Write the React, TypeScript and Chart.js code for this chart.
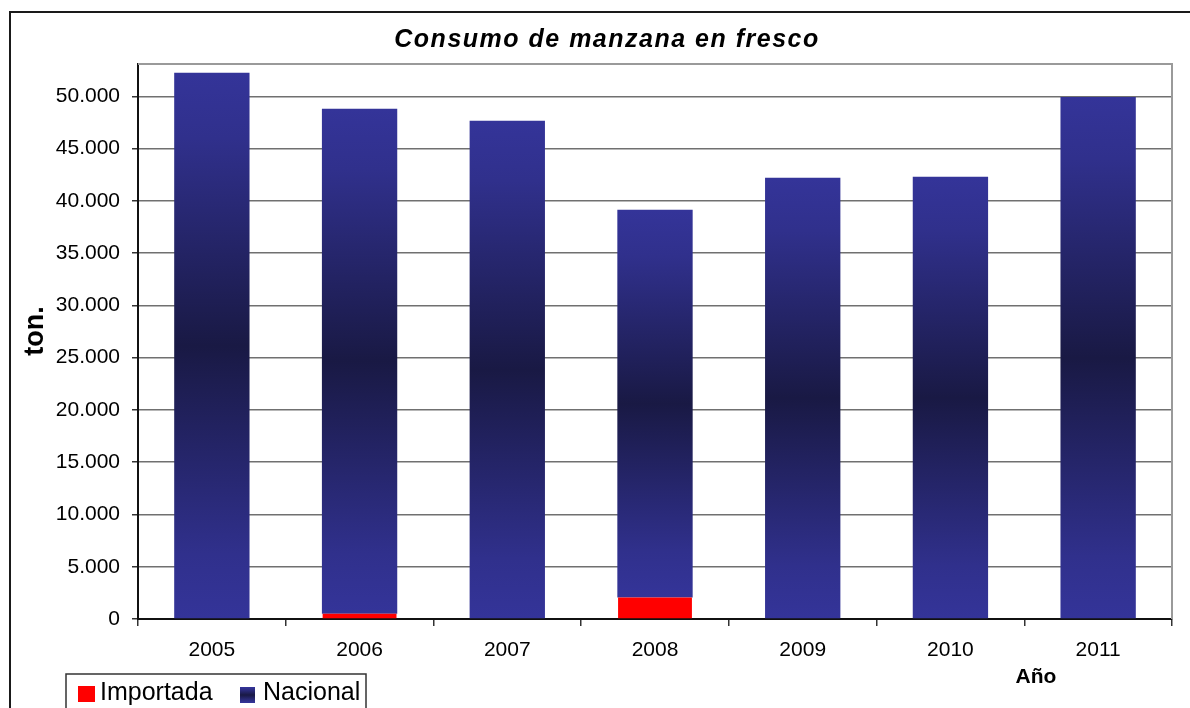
import React, { useEffect, useRef } from 'react';
import { Chart, registerables } from 'chart.js';

Chart.register(...registerables);

// ---- data ----
const years = ['2005', '2006', '2007', '2008', '2009', '2010', '2011'];
const importada = [0, 500, 60, 2050, 60, 0, 0];
const nacional = [52270, 48320, 47610, 37100, 42160, 42310, 49950];
const seriesNames = ['Importada', 'Nacional'];
const yTickValues = [0, 5000, 10000, 15000, 20000, 25000, 30000, 35000, 40000, 45000, 50000];
const yMax = 53100;
const chartTitle = 'Consumo de manzana en fresco';
const yTitle = 'ton.';
const xTitle = 'Año';

const FONT = 'Arial, "Liberation Sans", sans-serif';
const RED = '#ff0000';
const NAVY_LIGHT = '#343499';
const NAVY_MID = '#30308c';
const NAVY_DARK = '#191944';

function navyGradient(ctx: CanvasRenderingContext2D, y0: number, y1: number) {
  const g = ctx.createLinearGradient(0, y0, 0, y1);
  g.addColorStop(0, NAVY_LIGHT);
  g.addColorStop(0.12, NAVY_MID);
  g.addColorStop(0.5, NAVY_DARK);
  g.addColorStop(0.88, NAVY_MID);
  g.addColorStop(1, NAVY_LIGHT);
  return g;
}

const fmt = (v: number) => String(Math.round(v)).replace(/\B(?=(\d{3})+(?!\d))/g, '.');

const decor = {
  id: 'decor',
  beforeDraw(chart: any) {
    const { ctx, width, height } = chart;
    ctx.save();
    ctx.fillStyle = '#ffffff';
    ctx.fillRect(0, 0, width, height);
    ctx.strokeStyle = '#1a1a1a';
    ctx.lineWidth = 2;
    ctx.strokeRect(10, 12, 1400, 900);
    ctx.restore();
  },
  beforeDatasetsDraw(chart: any) {
    const { ctx, chartArea: a } = chart;
    ctx.save();
    ctx.strokeStyle = '#9a9a9a';
    ctx.lineWidth = 2;
    ctx.beginPath();
    ctx.moveTo(a.left, a.top);
    ctx.lineTo(a.right, a.top);
    ctx.lineTo(a.right, a.bottom);
    ctx.stroke();
    ctx.restore();
  },
  afterDraw(chart: any) {
    const { ctx } = chart;
    ctx.save();
    ctx.fillStyle = '#000';
    // title
    ctx.font = `italic bold 25px ${FONT}`;
    (ctx as any).letterSpacing = '1.5px';
    ctx.textAlign = 'center';
    ctx.textBaseline = 'alphabetic';
    ctx.fillText(chartTitle, 607, 47);
    (ctx as any).letterSpacing = '0px';
    // y title
    ctx.save();
    ctx.translate(43, 331);
    ctx.rotate(-Math.PI / 2);
    ctx.font = `bold 27px ${FONT}`;
    ctx.textAlign = 'center';
    ctx.fillText(yTitle, 0, 0);
    ctx.restore();
    // x title
    ctx.font = `bold 21px ${FONT}`;
    ctx.textAlign = 'center';
    ctx.fillText(xTitle, 1036, 683);
    // legend
    ctx.strokeStyle = '#333';
    ctx.lineWidth = 1.5;
    ctx.fillStyle = '#fff';
    ctx.fillRect(66, 674, 300, 60);
    ctx.strokeRect(66, 674, 300, 60);
    ctx.fillStyle = RED;
    ctx.fillRect(78, 686, 17, 16);
    ctx.fillStyle = navyGradient(ctx, 687, 703);
    ctx.fillRect(240, 687, 15, 16);
    ctx.fillStyle = '#000';
    ctx.font = `25px ${FONT}`;
    ctx.textAlign = 'left';
    ctx.fillText(seriesNames[0], 100, 700);
    ctx.fillText(seriesNames[1], 263, 700);
    ctx.restore();
  },
};

export default function App() {
  const ref = useRef<HTMLCanvasElement>(null);
  useEffect(() => {
    const canvas = ref.current;
    if (!canvas) return;
    const chart = new Chart(canvas, {
      type: 'bar',
      data: {
        labels: years,
        datasets: [
          {
            label: seriesNames[0],
            data: importada,
            backgroundColor: RED,
            borderWidth: 0,
            categoryPercentage: 1,
            barPercentage: 0.5,
          },
          {
            label: seriesNames[1],
            data: nacional,
            borderWidth: 0,
            categoryPercentage: 1,
            barPercentage: 0.51,
            backgroundColor: (c: any) => {
              const ch = c.chart;
              const ys = ch.scales && ch.scales.y;
              if (!ys || !ch.chartArea || c.type !== 'data') return NAVY_LIGHT;
              const i = c.dataIndex;
              const base = importada[i];
              const top = base + nacional[i];
              return navyGradient(ch.ctx, ys.getPixelForValue(top), ys.getPixelForValue(base));
            },
          },
        ],
      },
      plugins: [decor],
      options: {
        animation: false,
        responsive: false,
        devicePixelRatio: 1,
        layout: { padding: { left: 16, top: 64, right: 18, bottom: 0 } },
        plugins: {
          legend: { display: false },
          title: { display: false },
          tooltip: { enabled: false },
        },
        scales: {
          x: {
            stacked: true,
            afterFit: (s: any) => {
              s.height = 89;
            },
            grid: {
              offset: true,
              drawOnChartArea: false,
              drawTicks: true,
              tickLength: 7,
              color: '#333',
              tickColor: '#333',
              lineWidth: 1.5,
            },
            border: { color: '#111', width: 2 },
            ticks: {
              color: '#000',
              font: { family: FONT, size: 21 },
              padding: 12,
              maxRotation: 0,
            },
          },
          y: {
            stacked: true,
            min: 0,
            max: yMax,
            afterFit: (s: any) => {
              s.width = 122;
            },
            afterBuildTicks: (s: any) => {
              s.ticks = yTickValues.map((v) => ({ value: v }));
            },
            grid: {
              color: '#707070',
              lineWidth: 1.5,
              tickLength: 6,
              tickColor: '#333',
            },
            border: { color: '#111', width: 2 },
            ticks: {
              autoSkip: false,
              color: '#000',
              font: { family: FONT, size: 21 },
              padding: 12,
              callback: (v: any) => fmt(Number(v)),
            },
          },
        },
      },
    } as any);
    return () => chart.destroy();
  }, []);
  return (
    <div style={{ position: 'fixed', left: 0, top: 0, width: 1190, height: 708, background: '#fff' }}>
      <canvas ref={ref} width={1190} height={708} />
    </div>
  );
}
